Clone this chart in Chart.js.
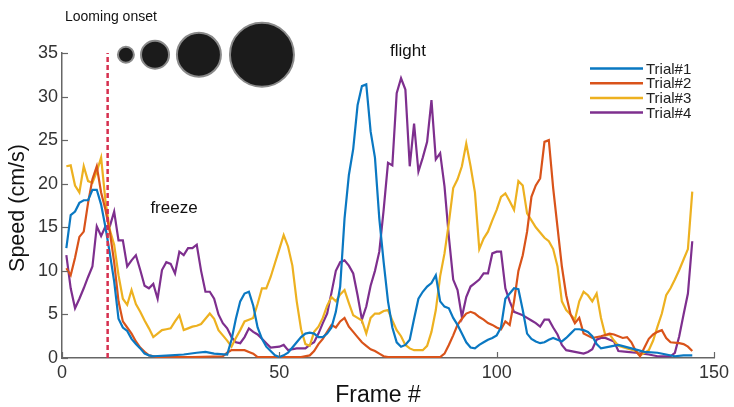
<!DOCTYPE html>
<html>
<head>
<meta charset="utf-8">
<script src="https://cdn.jsdelivr.net/npm/chart.js@4/dist/chart.umd.min.js"></script>
<style>
  html, body { margin: 0; padding: 0; background: #fff; }
  #wrap { width: 734px; height: 407px; position: relative; }
</style>
</head>
<body>
<div id="wrap"><canvas id="chart" width="734" height="407"></canvas></div>
<script>
/* --------------------------
   DATA
--------------------------- */
const trialLabels = ['Trial#1', 'Trial#2', 'Trial#3', 'Trial#4'];
const trialColors = ['#0a78c2', '#d9531a', '#edb120', '#7e2f8e'];

const t1Frames = [1,2,3,4,5,6,7,8,9,10,11,12,13,14,15,16,17,18,19,20,21,25,28,31,33,35,38,39,40,41,42,43,44,45,46,47,48,49,50,51,52,53,54,55,56,57,58,59,60,61,62,63,64,65,66,67,68,69,70,71,72,73,74,75,76,77,78,79,80,81,82,83,84,85,86,87,88,89,90,91,92,93,94,95,96,97,98,99,100,101,102,103,104,105,106,107,108,109,110,111,112,113,114,115,116,117,118,119,120,121,122,123,124,126,128,131,134,137,139,141,143,145];
const t1Speed  = [12.6,16.4,16.8,17.8,18.1,18.1,19.3,19.3,17.6,15,12,8.8,4.5,3.5,3.1,2.2,1.6,1.1,0.5,0.3,0.2,0.3,0.4,0.6,0.7,0.5,0.4,2.1,4.5,6.5,7.4,7.6,6,3.5,2.2,1.3,0.8,0.3,0.1,0.3,0.6,1.2,1.8,2.4,2.8,2.9,2.8,2.4,2.4,2.8,3.5,5.3,8.2,16,21,24,29,31.2,31.4,26,23,16,11,6.5,3.5,1.8,1.3,1.5,2.1,4.5,6.8,7.6,8.2,8.6,9.5,6.5,5.9,5.7,4.6,3.8,2.8,1.8,1.2,1.1,1.5,1.8,2.1,2.3,2.6,3.5,6.8,7.4,8,7.9,5.5,2.8,2.2,1.9,1.7,1.8,2.1,2.3,2.1,1.9,2.3,2.8,3.3,3.3,3.2,3,2.5,1.6,1.1,1.3,1.5,1.1,0.7,0.6,0.4,0.2,0.3,0.3];

const t2Frames = [1,2,3,4,5,6,7,8,9,10,11,12,13,14,15,16,17,18,19,20,22,30,37,38,39,40,42,43,44,45,55,57,58,59,60,61,62,63,64,65,66,67,68,69,70,71,72,73,74,75,87,88,89,90,91,92,93,94,95,96,97,98,99,100,101,102,103,104,105,106,107,108,109,110,111,112,113,114,115,116,117,118,119,120,122,124,126,127,129,130,131,132,133,134,135,136,137,138,139,140,142,143,144,145];
const t2Speed  = [10.3,9.5,11.5,13.9,14.5,17.8,20.5,22,19,17,14.5,11,6.5,4.2,3.5,2.8,1.9,1.2,0.7,0.3,0.1,0.1,0.2,0.6,0.9,0.9,0.9,0.7,0.5,0.1,0.1,0.3,0.8,1.6,2.2,3,3.8,3.5,4.2,4.6,3.6,3,2.4,1.8,1.4,1,0.8,0.5,0.2,0.1,0.1,0.5,1.5,2.6,3.8,4.5,5.1,5.3,5.1,4.7,4.4,4,3.8,3.5,3.3,4.2,3.8,6.5,10,11.8,14.5,18.5,19.8,20.6,24.8,25,19.5,15,10.5,7.2,5,4,4.6,2.8,2.3,2.5,2.8,2.7,2.3,2.4,1.8,0.8,0.2,1.2,2.2,2.7,3,3.2,2.3,1.8,1.7,1.6,1.3,0.8];

const t3Frames = [1,2,3,4,5,6,7,8,9,10,11,12,13,14,15,16,17,18,19,20,21,22,23,24,25,26,27,28,29,30,31,32,33,34,35,36,37,38,39,40,41,42,43,44,45,46,47,48,49,50,51,52,53,54,55,56,57,58,59,60,61,62,63,64,65,66,67,68,69,70,71,72,73,74,75,76,77,78,79,80,81,83,84,85,86,87,88,89,90,91,92,93,94,95,96,97,98,99,100,101,102,103,104,105,106,107,108,109,110,111,112,113,114,115,116,117,118,119,120,121,122,123,124,125,126,127,128,130,132,133,135,136,137,138,139,140,141,142,143,144,145];
const t3Speed  = [22,22.1,19.8,19,22,20.3,20.1,21.4,23,18,14.7,13,9.5,6.8,6.1,7.8,6.2,5.3,4.3,3.4,2.4,2.8,3.2,3.3,3.4,4.2,4.9,3.2,3.4,3.6,3.7,3.9,4.5,5.1,4.5,3.2,2.6,2,1.3,2.3,3.2,4.2,4.4,4.6,6.2,8,8,9.3,10.9,12.5,14.1,12.8,10.6,6.5,3.3,1.6,1.4,3,3.6,4.6,6,7,6.5,7.3,7.8,6.3,4.9,4.6,4.3,2.8,4.6,5.1,5.1,5.4,5.5,4.3,3.2,2.5,1.5,1.1,0.9,0.9,1.4,3,5.5,9.4,12,15.5,19.5,20.5,22,24.6,22,19,12.5,13.7,14.5,15.8,17,18.5,18.9,18,17,20.3,19.8,16.6,15.8,15,14.4,13.8,13.4,12.5,10.5,6.5,5.5,5,4.4,6.5,7.6,7.2,6.5,7.4,4.6,2.6,2.7,2,1.4,1.1,0.8,0.3,0.9,2,3.6,5.1,7.2,8,9,10.1,11.3,12.5,19.1];

const t4Frames = [1,2,3,4,5,6,7,8,9,10,11,12,13,14,15,16,17,18,19,20,21,22,23,24,25,26,27,28,29,30,31,32,33,34,35,36,37,38,39,40,41,42,43,44,45,46,47,48,50,51,52,54,56,57,58,59,60,61,62,63,64,65,66,67,68,69,70,71,72,73,74,75,76,77,78,79,80,81,82,83,84,85,86,87,88,89,90,91,92,93,94,95,96,97,98,99,100,101,102,103,104,105,106,107,108,109,110,111,112,113,114,115,116,118,120,121,122,123,124,125,126,127,128,130,132,135,137,140,141,142,143,144,145];
const t4Speed  = [11.8,8,5.7,6.8,8,9.3,10.5,15.1,14,15.1,15.1,16.8,13.5,13.5,10.5,11.2,11.8,10.1,8.3,8,8.5,6.8,10.1,11,10.8,9.7,12.2,11.8,12.6,12.6,13,10,7.6,7.6,6.8,5,4,3.4,2.4,1.8,1.7,2.4,3.4,3,2.7,2.2,1.7,1.2,1.3,1.5,0.9,1.1,1.1,1.5,1.8,2.8,4,5.1,7.5,10,11,11.2,10.6,9.7,7.2,4.4,5.9,8.3,10,12.2,17,22.4,22.1,30.4,32.1,30.8,22,26.9,21.4,23,24.8,29.6,22.8,23.5,19.7,13.9,9,7.8,4.7,7,8.2,8.6,9,9.7,9.7,12,12.2,12.2,8,6.5,5.3,5.1,4.9,4.6,4.3,4,3.6,4.4,4.4,3.5,2.7,1.5,0.9,0.7,0.5,0.7,1,2.1,2.3,2.3,2.1,1.9,0.8,0.7,0.6,0.4,0.2,0.2,0.6,2.5,5,7.4,13.4];

const onsetFrame = 10.5;
const xTicks = [0, 50, 100, 150];
const yTicks = [0, 5, 10, 15, 20, 25, 30, 35];

const allFrames = [t1Frames, t2Frames, t3Frames, t4Frames];
const allSpeeds = [t1Speed, t2Speed, t3Speed, t4Speed];

/* --------------------------
   DATASETS
--------------------------- */
const datasets = trialLabels.map((lab, i) => ({
    label: lab,
    data: allFrames[i].map((f, k) => ({ x: f, y: allSpeeds[i][k] })),
    borderColor: trialColors[i],
    borderWidth: 2.2,
    pointRadius: 0,
    tension: 0,
    fill: false
}));

// looming onset marker
datasets.push({
    label: 'onset',
    data: [{ x: onsetFrame, y: 0 }, { x: onsetFrame, y: 35 }],
    borderColor: '#d6304f',
    borderWidth: 2.5,
    borderDash: [5, 3],
    pointRadius: 0,
    order: -1
});

const FONT = '"Liberation Sans", Arial, sans-serif';

// tick marks inside, axis titles, circles, labels, legend
const decor = {
    id: 'decor',
    afterDraw(chart) {
        const c = chart.ctx;
        const xs = chart.scales.x, ys = chart.scales.y;
        const a = chart.chartArea;
        c.save();
        c.strokeStyle = '#666';
        c.lineWidth = 1.2;
        yTicks.forEach(v => {
            const y = Math.round(ys.getPixelForValue(v)) + 0.5;
            c.beginPath(); c.moveTo(a.left, y); c.lineTo(a.left + 6, y); c.stroke();
        });
        xTicks.forEach(v => {
            const x = Math.round(xs.getPixelForValue(v)) + 0.5;
            c.beginPath(); c.moveTo(x, a.bottom); c.lineTo(x, a.bottom - 6); c.stroke();
        });

        // looming stimulus circles
        const circles = [[14.7, 8], [21.4, 14], [31.5, 22], [46, 32]];
        circles.forEach(([f, r]) => {
            const cx = xs.getPixelForValue(f);
            const cy = ys.getPixelForValue(34.8);
            c.beginPath(); c.arc(cx, cy, r, 0, Math.PI * 2);
            c.fillStyle = '#1b1b1b'; c.fill();
            c.lineWidth = 2; c.strokeStyle = '#8a8a8a'; c.stroke();
        });

        c.fillStyle = '#111';
        c.textBaseline = 'middle';

        // axis titles
        c.font = '23px ' + FONT;
        c.textAlign = 'center';
        c.fillText('Frame #', 378, 396);
        c.save();
        c.translate(18, 208);
        c.rotate(-Math.PI / 2);
        c.font = '21.5px ' + FONT;
        c.fillText('Speed (cm/s)', 0, 0);
        c.restore();

        c.font = '14px ' + FONT;
        c.textAlign = 'left';
        c.fillText('Looming onset', 65, 17);
        c.font = '17px ' + FONT;
        c.textAlign = 'center';
        c.fillText('freeze', 174, 208);
        c.fillText('flight', 408, 51);

        // legend
        c.font = '15px ' + FONT;
        c.textAlign = 'left';
        trialLabels.forEach((lab, i) => {
            const y = 68.5 + i * 14.7;
            c.strokeStyle = trialColors[i];
            c.lineWidth = 2.5;
            c.beginPath(); c.moveTo(590, y); c.lineTo(643, y); c.stroke();
            c.fillStyle = '#222';
            c.fillText(lab, 646, y + 1);
        });
        c.restore();
    }
};

new Chart(document.getElementById('chart').getContext('2d'), {
    type: 'line',
    data: { datasets: datasets },
    options: {
        responsive: false,
        animation: false,
        layout: { padding: { left: 0, right: 20, top: 53, bottom: 0 } },
        plugins: { legend: { display: false }, tooltip: { enabled: false } },
        scales: {
            x: {
                type: 'linear', min: 0, max: 150,
                afterFit: s => { s.height = 49; },
                afterBuildTicks: s => { s.ticks = xTicks.map(v => ({ value: v })); },
                grid: { display: false, drawTicks: false },
                border: { display: true, color: '#666', width: 1.5 },
                ticks: { color: '#333', font: { family: FONT, size: 18 }, padding: 4 }
            },
            y: {
                min: 0, max: 35,
                afterFit: s => { s.width = 62; },
                afterBuildTicks: s => { s.ticks = yTicks.map(v => ({ value: v })); },
                grid: { display: false, drawTicks: false },
                border: { display: true, color: '#666', width: 1.5 },
                ticks: { color: '#333', font: { family: FONT, size: 18 }, padding: 4 }
            }
        }
    },
    plugins: [decor]
});
</script>
</body>
</html>
